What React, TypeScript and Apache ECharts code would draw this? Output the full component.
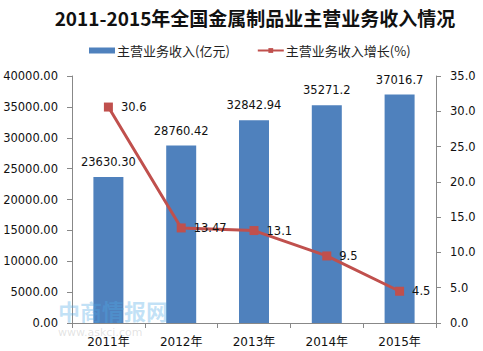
import React, { useEffect, useRef } from "react";
import * as echarts from "echarts";

const categories = ["2011年", "2012年", "2013年", "2014年", "2015年"];
const revenue = [23630.3, 28760.42, 32842.94, 35271.2, 37016.7];
const revenueLabels = ["23630.30", "28760.42", "32842.94", "35271.2", "37016.7"];
const growth = [30.6, 13.47, 13.1, 9.5, 4.5];
const growthLabels = ["30.6", "13.47", "13.1", "9.5", "4.5"];
const seriesNames = ["主营业务收入(亿元)", "主营业务收入增长(%)"];
const titleText = "2011-2015年全国金属制品业主营业务收入情况";

const FONT = "'DejaVu Sans', 'Noto Sans CJK SC', sans-serif";
const CJK = "'Noto Sans CJK SC', sans-serif";

export default function App() {
  const ref = useRef<HTMLDivElement>(null);
  useEffect(() => {
    if (!ref.current) return;
    const chart = echarts.init(ref.current, undefined, { renderer: "svg" });
    chart.setOption({
      animation: false,
      backgroundColor: "#fff",
      title: {
        text: titleText,
        left: 250,
        textAlign: "center",
        top: 3,
        textStyle: {
          fontSize: 19,
          fontWeight: "bold",
          color: "#111",
          fontFamily: CJK,
        },
      },
      legend: {
        top: 39,
        left: 84,
        itemGap: 27,
        itemWidth: 26,
        itemHeight: 6,
        textStyle: { fontSize: 13, color: "#222", fontFamily: CJK, padding: [0, 0, 0, -3] },
        data: [
          { name: seriesNames[0], icon: "rect" },
          { name: seriesNames[1] },
        ],
      },
      grid: { left: 72, right: 47, top: 76, bottom: 28, containLabel: false },
      xAxis: {
        type: "category",
        data: categories,
        axisLine: { lineStyle: { color: "#888" } },
        axisTick: { show: true, alignWithLabel: false, lineStyle: { color: "#888" }, length: 5 },
        axisLabel: { color: "#111", fontSize: 12, fontFamily: FONT, margin: 13 },
      },
      yAxis: [
        {
          type: "value",
          min: 0,
          max: 40000,
          interval: 5000,
          axisLine: { show: true, lineStyle: { color: "#888" } },
          axisTick: { show: true, lineStyle: { color: "#888" }, length: 5 },
          splitLine: { show: false },
          axisLabel: {
            color: "#111",
            fontSize: 11.5,
            fontFamily: FONT,
            margin: 14,
            formatter: (v: number) => v.toFixed(2),
          },
        },
        {
          type: "value",
          min: 0,
          max: 35,
          interval: 5,
          position: "right",
          axisLine: { show: true, lineStyle: { color: "#888" } },
          axisTick: { show: true, lineStyle: { color: "#888" }, length: 5 },
          splitLine: { show: false },
          axisLabel: {
            color: "#111",
            fontSize: 11.5,
            fontFamily: FONT,
            margin: 14,
            formatter: (v: number) => v.toFixed(1),
          },
        },
      ],
      series: [
        {
          name: seriesNames[0],
          type: "bar",
          data: revenue,
          barWidth: 30,
          itemStyle: { color: "#4F81BD" },
          label: {
            show: true,
            position: "top",
            distance: 9,
            color: "#111",
            fontSize: 11.5,
            fontFamily: FONT,
            formatter: (p: any) => revenueLabels[p.dataIndex],
          },
        },
        {
          name: seriesNames[1],
          type: "line",
          yAxisIndex: 1,
          data: growth,
          symbol: "rect",
          symbolSize: 9,
          lineStyle: { color: "#C0504D", width: 3 },
          itemStyle: { color: "#C0504D" },
          label: {
            show: true,
            position: "right",
            distance: 8,
            color: "#111",
            fontSize: 11.5,
            fontFamily: FONT,
            formatter: (p: any) => growthLabels[p.dataIndex],
          },
        },
      ],
      graphic: [
        {
          type: "text",
          left: 58,
          top: 299,
          z: 100,
          style: {
            text: "中商情报网",
            fontSize: 22,
            fontWeight: "bold",
            fill: "rgba(80,170,230,0.35)",
            fontFamily: CJK,
          },
        },
        {
          type: "text",
          left: 58,
          top: 327,
          z: 100,
          style: {
            text: "www.askci.com",
            fontSize: 11,
            fill: "rgba(160,160,160,0.3)",
            fontFamily: FONT,
          },
        },
      ],
    });
    return () => chart.dispose();
  }, []);
  return <div ref={ref} style={{ width: 483, height: 351, position: "absolute", left: 0, top: 0 }} />;
}
